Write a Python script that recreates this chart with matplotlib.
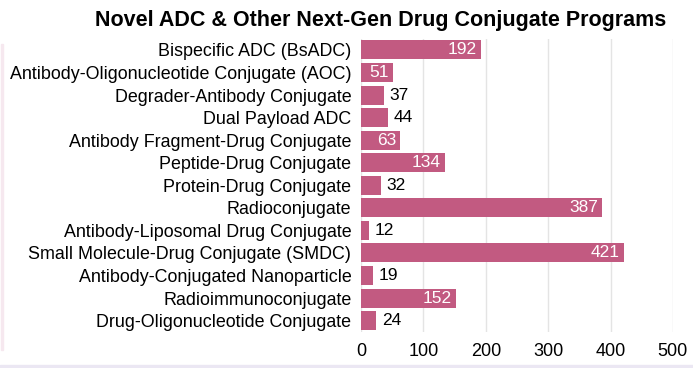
import matplotlib.pyplot as plt
from matplotlib.patches import Rectangle

plt.rcParams['font.family'] = ['Liberation Sans', 'DejaVu Sans']

categories = [
    "Bispecific ADC (BsADC)",
    "Antibody-Oligonucleotide Conjugate (AOC)",
    "Degrader-Antibody Conjugate",
    "Dual Payload ADC",
    "Antibody Fragment-Drug Conjugate",
    "Peptide-Drug Conjugate",
    "Protein-Drug Conjugate",
    "Radioconjugate",
    "Antibody-Liposomal Drug Conjugate",
    "Small Molecule-Drug Conjugate (SMDC)",
    "Antibody-Conjugated Nanoparticle",
    "Radioimmunoconjugate",
    "Drug-Oligonucleotide Conjugate",
]
programs = [192, 51, 37, 44, 63, 134, 32, 387, 12, 421, 19, 152, 24]
x_ticks = [0, 100, 200, 300, 400, 500]

bar_color = "#c25a81"

fig = plt.figure(figsize=(6.93, 3.68), dpi=100)
ax = fig.add_axes([0.521, 0.098, 0.450, 0.797])

pos = list(range(len(categories)))
ax.barh(pos, programs, height=0.84, color=bar_color, zorder=2)
ax.set_ylim(len(categories) - 0.5, -0.5)
ax.set_xlim(0, 500)
ax.set_yticks(pos)
ax.set_yticklabels(categories, fontsize=12.9)
ax.set_xticks(x_ticks)
ax.set_xticklabels([str(t) for t in x_ticks], fontsize=13)
ax.tick_params(length=0)
ax.tick_params(axis='y', pad=7)
ax.tick_params(axis='x', pad=8)
ax.xaxis.grid(True, color="#e4e4e4", linewidth=1, zorder=0)
for s in ax.spines.values():
    s.set_visible(False)

for y, v in zip(pos, programs):
    if v >= 50:
        ax.text(v - 7, y, str(v), ha="right", va="center", color="white",
                fontsize=12.5, zorder=3)
    else:
        ax.text(v + 9, y, str(v), ha="left", va="center", color="black",
                fontsize=12.5, zorder=3)

fig.text(0.549, 0.945, "Novel ADC & Other Next-Gen Drug Conjugate Programs",
         ha="center", va="center", fontsize=15.5, fontweight="bold")

# faint frame remnants at the left and bottom edges
fig.patches.append(Rectangle((0, 0), 1, 0.008, transform=fig.transFigure,
                             color="#ebe7f3", zorder=0))
fig.patches.append(Rectangle((0.002, 0.05), 0.003, 0.83, transform=fig.transFigure,
                             color="#f6e8ef", zorder=0))

fig.savefig("out.png", dpi=100)
